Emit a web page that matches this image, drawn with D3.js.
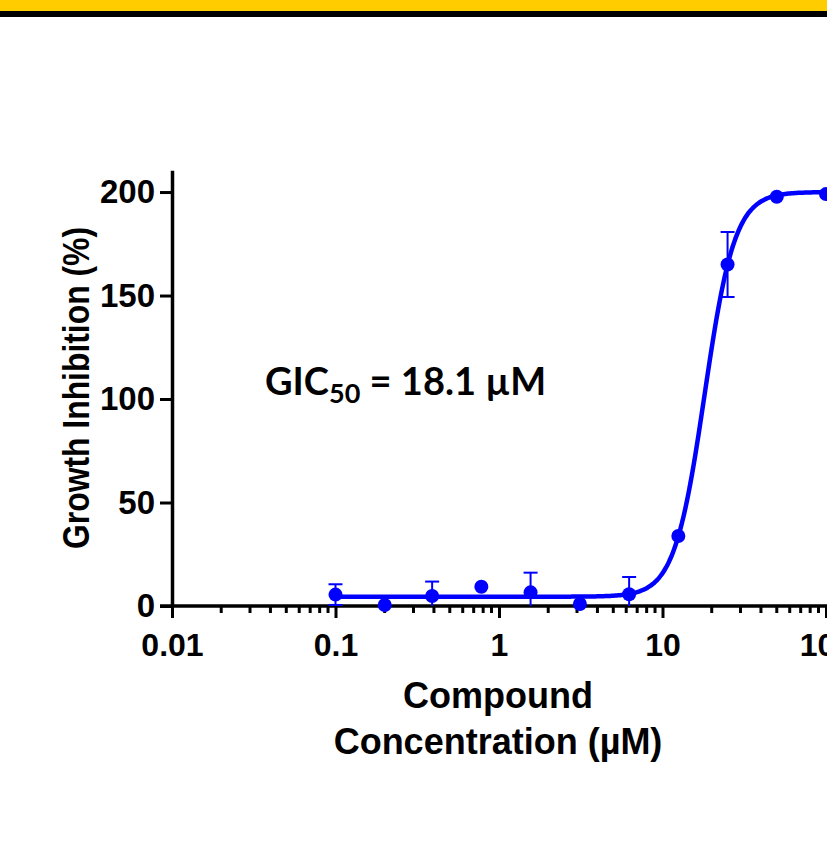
<!doctype html>
<html>
<head>
    <style>
        body { margin: 0; background: #fff; }
        .tick text { font-family: "Liberation Sans", Arial, sans-serif; font-weight: bold; }
    </style>
    <script src="https://d3js.org/d3.v7.min.js"></script>
</head>
<body>
<svg width="827" height="864" class="svg1"></svg>
<script>
    // concentrations (uM) and mean growth inhibition (%)
    var conc = [0.1, 0.2, 0.39, 0.78, 1.56, 3.125, 6.25, 12.5, 25, 50, 100];
    var inhibition = [5.5, 0.5, 4.8, 9.3, 6.6, 1.0, 5.7, 33.8, 165, 197.7, 199];
    var errBar = [5, 0, 7, 0, 9.5, 0, 8.3, 0, 15.7, 0, 0];

    var xTicks = [0.01, 0.1, 1, 10, 100];
    var xTickLabels = ["0.01", "0.1", "1", "10", "100"];
    var yTicks = [0, 50, 100, 150, 200];

    // four parameter fit (bottom, top, IC50, hill)
    var fitBottom = 4.5, fitTop = 200, fitIC50 = 18.1, fitHill = 4.7;

    var svg = d3.select(".svg1");

    // header band
    svg.append("rect").attr("x", 0).attr("y", 0).attr("width", 827).attr("height", 11).attr("fill", "#ffcc00");
    svg.append("rect").attr("x", 0).attr("y", 11).attr("width", 827).attr("height", 6).attr("fill", "#000");

    var xScale = d3.scaleLog().domain([0.01, 1000]).range([172, 989.5]);
    var yScale = d3.scaleLinear().domain([0, 210.5]).range([606, 170.3]);

    // minor ticks
    var minor = [];
    [0.01, 0.1, 1, 10, 100].forEach(function(dec) {
        for (var k = 2; k <= 9; k++) minor.push(dec * k);
    });
    svg.selectAll(".minor")
       .data(minor)
       .enter().append("line")
       .attr("x1", function(d) { return xScale(d); })
       .attr("x2", function(d) { return xScale(d); })
       .attr("y1", yScale(0))
       .attr("y2", yScale(0) + 7)
       .attr("stroke", "#000")
       .attr("stroke-width", 3);

    var xAxis = svg.append("g")
       .attr("transform", "translate(0," + yScale(0) + ")")
       .call(d3.axisBottom(xScale)
           .tickValues(xTicks)
           .tickFormat(function(d, i) { return xTickLabels[i]; })
           .tickSize(12)
           .tickSizeOuter(0)
           .tickPadding(15));
    xAxis.select(".domain").attr("stroke-width", 3.5).attr("d", "M160,0H900");
    xAxis.selectAll(".tick line").attr("stroke-width", 3);
    xAxis.selectAll(".tick text").attr("font-size", "32px").attr("fill", "#000");

    var yAxis = svg.append("g")
       .attr("transform", "translate(" + xScale(0.01) + ",0)")
       .call(d3.axisLeft(yScale)
           .tickValues(yTicks)
           .tickSize(12)
           .tickSizeOuter(0)
           .tickPadding(5));
    yAxis.select(".domain").attr("stroke-width", 3.5);
    yAxis.selectAll(".tick line").attr("stroke-width", 3);
    yAxis.selectAll(".tick text").attr("font-size", "33px").attr("fill", "#000");

    // axis titles
    svg.append("text")
       .attr("transform", "translate(89,388) rotate(-90)")
       .attr("text-anchor", "middle")
       .attr("font-family", "Liberation Sans, Arial, sans-serif")
       .attr("font-weight", "bold")
       .attr("font-size", "36px")
       .attr("textLength", 322)
       .attr("lengthAdjust", "spacingAndGlyphs")
       .text("Growth Inhibition (%)");

    var xt = svg.append("text")
       .attr("text-anchor", "middle")
       .attr("font-family", "Liberation Sans, Arial, sans-serif")
       .attr("font-weight", "bold")
       .attr("font-size", "36px");
    xt.append("tspan").attr("x", 498).attr("y", 708).text("Compound");
    xt.append("tspan").attr("x", 498).attr("y", 754).text("Concentration (\u00b5M)");

    // fitted curve
    function fit(x) {
        return fitBottom + (fitTop - fitBottom) / (1 + Math.pow(fitIC50 / x, fitHill));
    }
    var curveX = d3.range(-1, 2.15, 0.01).map(function(e) { return Math.pow(10, e); });
    var line = d3.line()
       .x(function(d) { return xScale(d); })
       .y(function(d) { return yScale(fit(d)); })
       .curve(d3.curveMonotoneX);
    svg.append("path")
       .datum(curveX)
       .attr("d", line)
       .attr("fill", "none")
       .attr("stroke", "#0000ff")
       .attr("stroke-width", 4.5);

    // error bars (clipped at 0)
    var pts = conc.map(function(c, i) { return { x: c, y: inhibition[i], e: errBar[i] }; });
    var eb = svg.selectAll(".eb").data(pts.filter(function(d) { return d.e > 0; })).enter().append("g");
    eb.append("line")
       .attr("x1", function(d) { return xScale(d.x); })
       .attr("x2", function(d) { return xScale(d.x); })
       .attr("y1", function(d) { return yScale(d.y + d.e); })
       .attr("y2", function(d) { return yScale(Math.max(0, d.y - d.e)); })
       .attr("stroke", "#0000ff").attr("stroke-width", 2);
    eb.append("line")
       .attr("x1", function(d) { return xScale(d.x) - 7; })
       .attr("x2", function(d) { return xScale(d.x) + 7; })
       .attr("y1", function(d) { return yScale(d.y + d.e); })
       .attr("y2", function(d) { return yScale(d.y + d.e); })
       .attr("stroke", "#0000ff").attr("stroke-width", 2);
    eb.filter(function(d) { return d.y - d.e > 0; }).append("line")
       .attr("x1", function(d) { return xScale(d.x) - 7; })
       .attr("x2", function(d) { return xScale(d.x) + 7; })
       .attr("y1", function(d) { return yScale(d.y - d.e); })
       .attr("y2", function(d) { return yScale(d.y - d.e); })
       .attr("stroke", "#0000ff").attr("stroke-width", 2);

    svg.selectAll(".pt")
       .data(pts)
       .enter().append("circle")
       .attr("cx", function(d) { return xScale(d.x); })
       .attr("cy", function(d) { return yScale(d.y); })
       .attr("r", 7)
       .attr("fill", "#0000ff");

    // annotation
    var ann = svg.append("text")
       .attr("x", 265)
       .attr("y", 395)
       .attr("font-family", "Lato, 'Open Sans', sans-serif")
       .attr("font-weight", "bold")
       .attr("font-size", "38px");
    ann.append("tspan").text("GIC");
    ann.append("tspan").attr("font-size", "27px").attr("dy", 8).text("50");
    ann.append("tspan").attr("dy", -8).text(" = 18.1 \u00b5M");
</script>
</body>
</html>
